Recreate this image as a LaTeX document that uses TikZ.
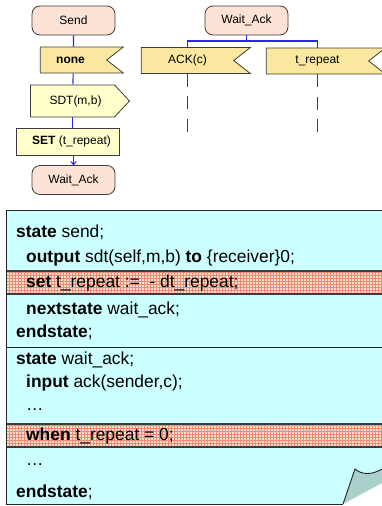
\documentclass[tikz,border=0pt]{standalone}
\usepackage{fontspec}
\setmainfont{Liberation Sans}
\usepackage{tikz}
\usetikzlibrary{shapes,shapes.symbols,arrows.meta,positioning,patterns}

\definecolor{statefill}{RGB}{253,226,214}
\definecolor{inputfill}{RGB}{251,232,160}
\definecolor{taskfill}{RGB}{255,255,204}
\definecolor{codefill}{RGB}{204,255,255}
\definecolor{flapfill}{RGB}{170,208,204}
\definecolor{flowblue}{RGB}{40,40,250}
\definecolor{bandgrid}{RGB}{238,140,112}
\definecolor{bandbase}{RGB}{244,222,212}
\definecolor{edgegray}{RGB}{60,60,60}

\begin{document}
\begin{tikzpicture}[x=1pt, y=-1pt,
    state/.style={rectangle, rounded corners=8pt, draw=edgegray, line width=0.8pt, fill=statefill,
        minimum width=83pt, minimum height=29pt, inner sep=0pt, font=\fontsize{12}{14}\selectfont},
    input/.style={signal, signal to=nowhere, signal from=east, signal pointer angle=76, draw=edgegray,
        line width=0.8pt, fill=inputfill, minimum height=26pt, inner sep=0pt, font=\fontsize{12}{14}\selectfont},
    output/.style={signal, signal from=nowhere, signal to=east, signal pointer angle=94, draw=edgegray,
        line width=0.8pt, fill=taskfill, minimum height=32pt, inner sep=0pt, font=\fontsize{12}{14}\selectfont},
    task/.style={rectangle, draw=edgegray, line width=0.8pt, fill=taskfill,
        minimum width=103pt, minimum height=27pt, inner sep=0pt, font=\fontsize{12}{14}\selectfont},
    line/.style={draw=flowblue, line width=1.1pt},
    branch/.style={line, dash pattern=on 13pt off 9.5pt},
    code/.style={anchor=west, inner sep=0pt, font=\fontsize{17.4}{20}\selectfont},
    band/.style={fill=bandbase, postaction={pattern=grid, pattern color=bandgrid}},
    bandline/.style={draw=edgegray, line width=1.2pt},
    edge/.style={draw=black!85, line width=0.9pt}
]
    \useasboundingbox (0,0) rectangle (382,506);

    \node[state] (send) at (73.5,20.5) {Send};
    \node[input, minimum width=83pt] (none) at (73.5,60) {\textbf{none}\hspace*{6pt}};
    \node[output, minimum width=99pt] (sdt) at (72.5,101) {\hspace*{6pt}SDT(m,b)};
    \node[task] (set) at (67.5,141.5) {\hspace*{8pt}\textbf{SET} (t\_repeat)};
    \node[state] (waitA) at (73.5,180) {Wait\_Ack};

    \node[state] (waitB) at (246.5,20.5) {Wait\_Ack};
    \node[input, minimum width=109pt] (ack) at (187.5,60.5) {ACK(c)};
    \node[input, minimum width=119pt] (trep) at (317.5,61) {t\_repeat};
    \coordinate (fork) at (246.5,41);
    \coordinate (ackend) at (187.5,132);
    \coordinate (trepend) at (317.5,132);

    \path[line] (send) -- (none);
    \path[line] (none) -- (sdt);
    \path[line] (sdt.south) -- (sdt.south |- set.north);
    \path[line, -{To[length=4pt, width=6pt]}] (set.south -| waitA.north) -- (waitA.north);
    \path[line] (waitB.south) -- (fork);
    \path[line] (ack.north) |- (fork) -| (trep.north);
    \path[branch] (ack.south) -- (ackend);
    \path[branch] (trep.south) -- (trepend);

    \fill[codefill] (6,210) -- (382,210) -- (382,469) .. controls (372,475) and (362,475) .. (355,469)
        -- (343,504) -- (6,504) -- cycle;
    \fill[band] (6,271) rectangle (382,294);
    \fill[band] (6,424) rectangle (382,447);
    \path[bandline] (6,271) -- (382,271) (6,294) -- (382,294);
    \path[bandline] (6,424) -- (382,424) (6,447) -- (382,447);
    \path[edge] (6,347) -- (382,347);
    \fill[flapfill] (343,504) -- (355,469) .. controls (362,475) and (372,475) .. (382,469) -- (382,483) -- cycle;
    \path[edge] (343,504) -- (355,469) .. controls (362,475) and (372,475) .. (382,469);
    \path[edge] (382,210) -- (6,210) -- (6,504) -- (343,504);

    \node[code] (l1) at (16,232) {\textbf{state} send;};
    \node[code] (l2) at (26,258) {\textbf{output} sdt(self,m,b) \textbf{to} \{receiver\}0;};
    \node[code] (l3) at (26,282.5) {\textbf{set} t\_repeat :=\ \ - dt\_repeat;};
    \node[code] (l4) at (26,310) {\textbf{nextstate} wait\_ack;};
    \node[code] (l5) at (16,332) {\textbf{endstate};};
    \node[code] (l6) at (16,360) {\textbf{state} wait\_ack;};
    \node[code] (l7) at (26,383) {\textbf{input} ack(sender,c);};
    \node[code] (l8) at (26,410) {\dots};
    \node[code] (l9) at (26,435.5) {\textbf{when} t\_repeat = 0;};
    \node[code] (l10) at (26,465) {\dots};
    \node[code] (l11) at (16,492) {\textbf{endstate};};
\end{tikzpicture}
\end{document}
